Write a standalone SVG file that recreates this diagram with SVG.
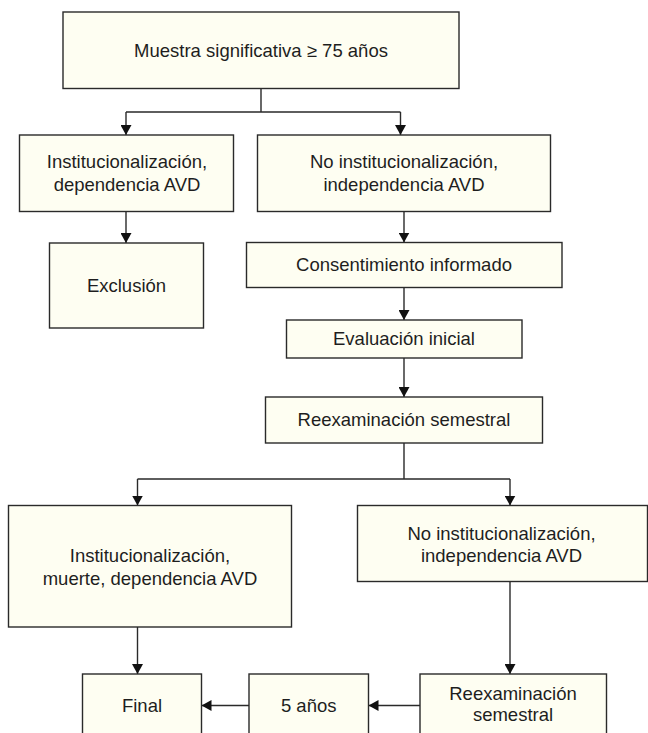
<svg xmlns="http://www.w3.org/2000/svg" width="648" height="733" viewBox="0 0 648 733">
<style>
.box{fill:#fefef2;stroke:#2a2a2a;stroke-width:1.4}
.t{font-family:"Liberation Sans",Arial,sans-serif;font-size:18.5px;fill:#1e1e1e;text-anchor:middle}
.c{fill:none;stroke:#2a2a2a;stroke-width:1.4}
</style>
<defs>
<marker id="ah" viewBox="0 0 10 11" refX="10" refY="5.5" markerWidth="10" markerHeight="11" markerUnits="userSpaceOnUse" orient="auto">
<path d="M0,0 L10,5.5 L0,11 Z" fill="#111"/>
</marker>
</defs>
<rect width="648" height="733" fill="#ffffff"/>
<g id="connectors">
<path class="c" d="M261,88.5 V112 M126,112 H400.5"/>
<path class="c" d="M126,112 V135" marker-end="url(#ah)"/>
<path class="c" d="M400.5,112 V135" marker-end="url(#ah)"/>
<path class="c" d="M126,211.5 V243" marker-end="url(#ah)"/>
<path class="c" d="M404,211.5 V242.5" marker-end="url(#ah)"/>
<path class="c" d="M404,287.5 V320" marker-end="url(#ah)"/>
<path class="c" d="M404,358 V397" marker-end="url(#ah)"/>
<path class="c" d="M404,443 V479 M137.5,479 H510"/>
<path class="c" d="M137.5,479 V505.5" marker-end="url(#ah)"/>
<path class="c" d="M510,479 V505.5" marker-end="url(#ah)"/>
<path class="c" d="M137.5,627 V674" marker-end="url(#ah)"/>
<path class="c" d="M510,581.5 V674" marker-end="url(#ah)"/>
<path class="c" d="M420,705.5 H368.5" marker-end="url(#ah)"/>
<path class="c" d="M249,705.5 H201.5" marker-end="url(#ah)"/>
</g>
<g id="n-muestra"><rect class="box" x="63" y="12" width="396" height="76.5"/><text class="t" x="261" y="57">Muestra significativa ≥ 75 años</text></g>
<g id="n-inst1"><rect class="box" x="19.5" y="135" width="214" height="76.5"/><text class="t" x="127" y="168">Institucionalización,</text><text class="t" x="127" y="191">dependencia AVD</text></g>
<g id="n-noinst1"><rect class="box" x="257.5" y="135" width="293" height="76.5"/><text class="t" x="404" y="168">No institucionalización,</text><text class="t" x="404" y="191">independencia AVD</text></g>
<g id="n-exclusion"><rect class="box" x="49.5" y="243" width="154" height="85"/><text class="t" x="126.5" y="292">Exclusión</text></g>
<g id="n-consent"><rect class="box" x="246.5" y="242.5" width="315.5" height="45"/><text class="t" x="404" y="271">Consentimiento informado</text></g>
<g id="n-eval"><rect class="box" x="286.5" y="320" width="235.5" height="38"/><text class="t" x="404" y="345">Evaluación inicial</text></g>
<g id="n-reexam1"><rect class="box" x="265.5" y="397" width="277" height="46"/><text class="t" x="404" y="426">Reexaminación semestral</text></g>
<g id="n-inst2"><rect class="box" x="8.5" y="505.5" width="283" height="121.5"/><text class="t" x="150" y="562">Institucionalización,</text><text class="t" x="150" y="584.5">muerte, dependencia AVD</text></g>
<g id="n-noinst2"><rect class="box" x="357.5" y="505.5" width="290" height="76"/><text class="t" x="501.5" y="539.5">No institucionalización,</text><text class="t" x="501.5" y="562">independencia AVD</text></g>
<g id="n-final"><rect class="box" x="82.5" y="674" width="119" height="70"/><text class="t" x="142" y="712">Final</text></g>
<g id="n-5anos"><rect class="box" x="249" y="674" width="119.5" height="70"/><text class="t" x="308.7" y="712">5 años</text></g>
<g id="n-reexam2"><rect class="box" x="420" y="674" width="186.5" height="70"/><text class="t" x="513" y="700">Reexaminación</text><text class="t" x="513" y="721">semestral</text></g>
</svg>
